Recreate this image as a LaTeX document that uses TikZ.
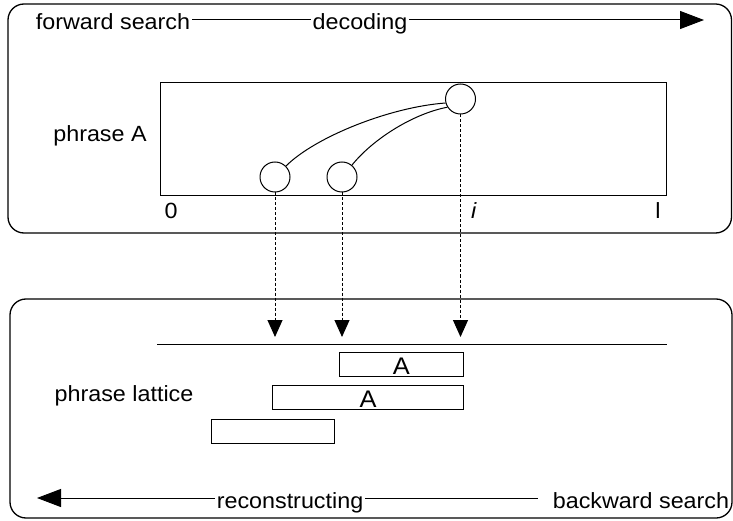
\documentclass[tikz,border=0pt]{standalone}
\usepackage{fontspec}
\setmainfont{Liberation Sans}[FakeStretch=1.06]
\usetikzlibrary{arrows.meta, positioning}

\begin{document}
\begin{tikzpicture}[x=1pt, y=-1pt, line width=1pt,
    every node/.style={font=\fontsize{22}{26}\selectfont},
    frame/.style={draw, line width=1.3pt, rounded corners=16pt},
    txt/.style={inner sep=1.5pt, text height=20pt, text depth=0pt},
    state/.style={circle, draw, minimum size=30pt, inner sep=0pt},
    latbox/.style={draw, minimum height=24pt, inner sep=0pt, text height=22pt, text depth=2pt,
        font=\fontsize{24}{28}\selectfont},
    tri/.style={-{Triangle[length=24pt, width=18pt]}},
    dots/.style={dash pattern=on 3pt off 2pt, -{Triangle[length=17pt, width=15pt]}}]
    \useasboundingbox (0,0) rectangle (733,521);

    % Frames
    \draw[frame] (8,4) rectangle (731.5,233);
    \draw[frame] (10,299) rectangle (732,518);

    % Forward search
    \node[txt] (fwd) at (113,20) {forward search};
    \node[txt] (dec) at (360,20) {decoding};
    \coordinate (fwdend) at (704,20);
    \draw (fwd) -- (dec);
    \draw[tri] (dec) -- (fwdend);

    % Phrase A with its states
    \draw (160,83) rectangle (666,196);
    \node[txt] (phA) at (100,132) {phrase A};
    \node[state] (c1) at (275,177) {};
    \node[state] (c2) at (342,177) {};
    \node[state] (c3) at (460.5,99) {};
    \draw (c1.45) .. controls (315,137) and (390,107) .. (c3.195);
    \draw (c2.50) .. controls (372,140) and (412,114) .. (c3.212);

    % Positions
    \node[txt] (t0) at (171,209) {0};
    \node[txt] (ti) at (474,209) {\textit{i}};
    \node[txt] (tl) at (658,209) {l};

    % Projections onto the lattice
    \coordinate (p1) at (c1.south |- 0,337);
    \coordinate (p2) at (c2.south |- 0,337);
    \coordinate (p3) at (c3.south |- 0,337);
    \draw[dots] (c1.south) -- (p1);
    \draw[dots] (c2.south) -- (p2);
    \draw[dots] (c3.south) -- (p3);

    % Phrase lattice
    \coordinate (latl) at (157,344);
    \coordinate (latr) at (667,344);
    \draw (latl) -- (latr);
    \node[txt] (lat) at (124,391) {phrase lattice};
    \node[latbox, minimum width=124pt] (la1) at (401.3,364) {A};
    \node[latbox, minimum width=190.6pt] (la2) at (368,397) {A};
    \node[latbox, minimum width=122.6pt] (la3) at (273,431) {};

    % Backward search
    \node[txt] (rec) at (290,498) {reconstructing};
    \node[txt] (bwd) at (641,498) {backward search};
    \coordinate (bwdend) at (37,498);
    \draw[shorten <=13pt] (bwd) -- (rec);
    \draw[tri] (rec) -- (bwdend);
\end{tikzpicture}
\end{document}
